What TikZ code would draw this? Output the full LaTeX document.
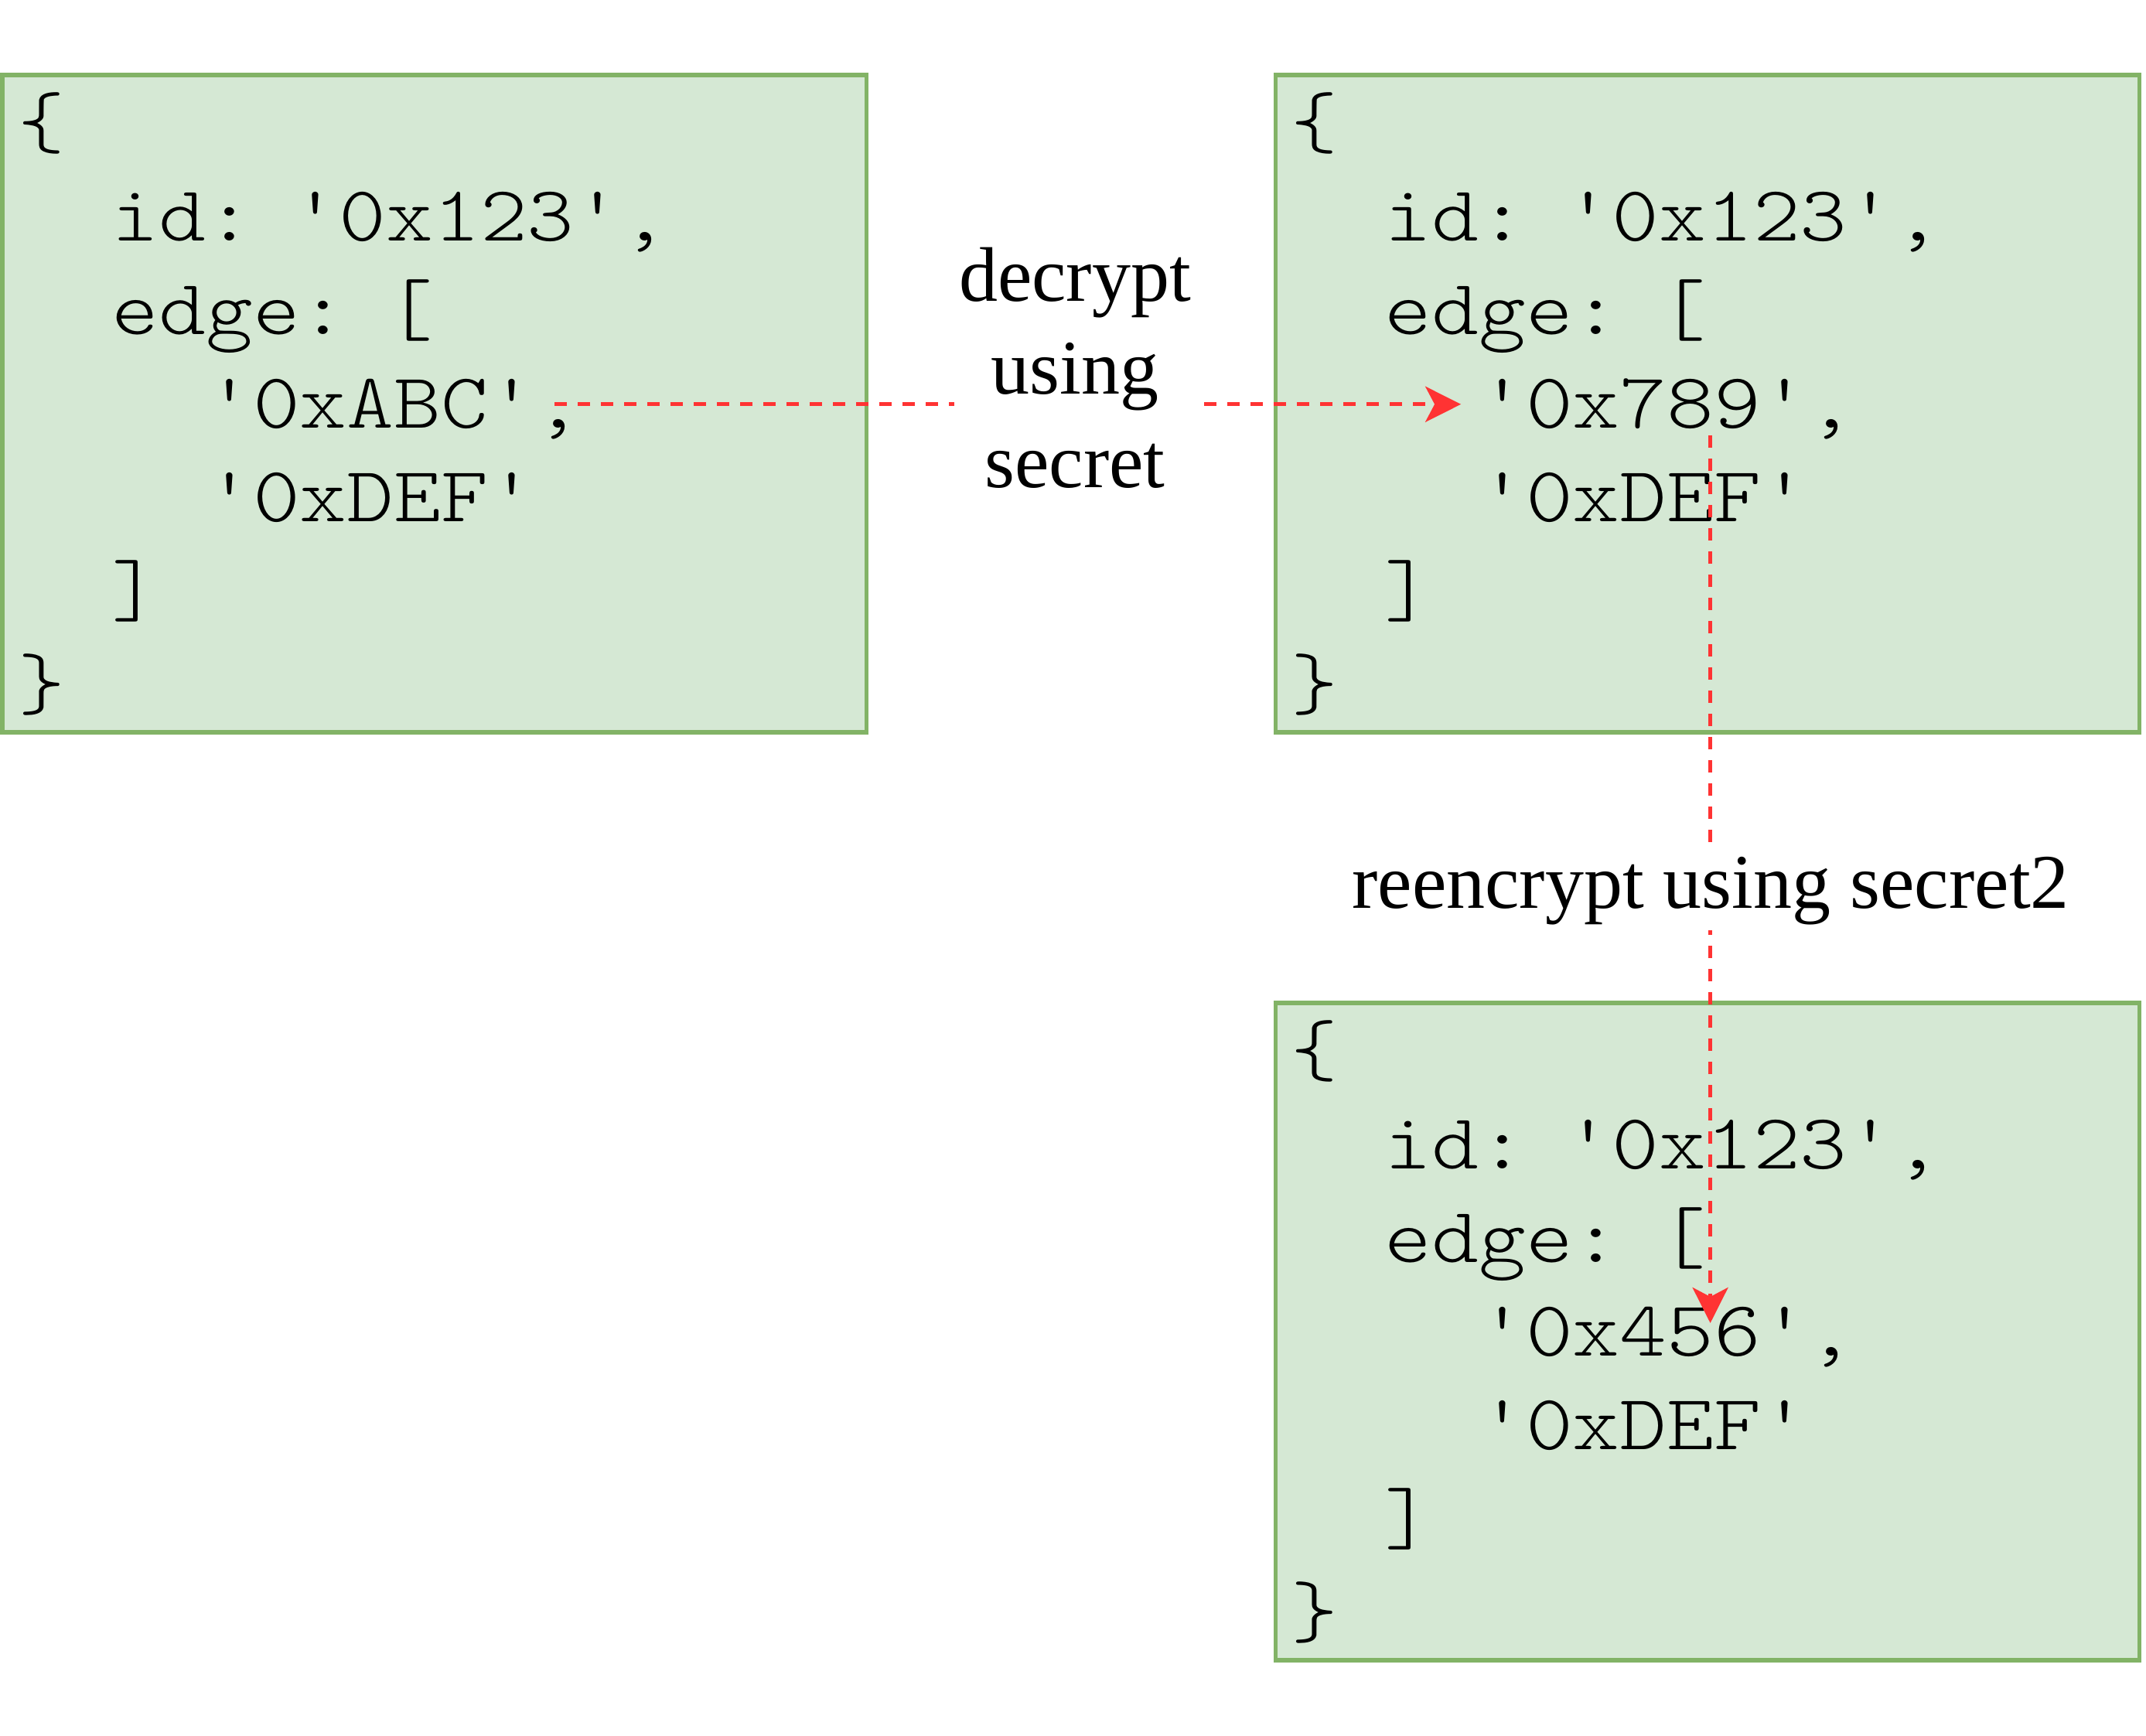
\documentclass[tikz,border=0pt]{standalone}
\usepackage{fontspec}
\setmainfont{Liberation Serif}
\newfontfamily\codefont{lmmonolt10-regular}[Extension=.otf, FakeStretch=1.14]
\usetikzlibrary{positioning, arrows.meta}
\definecolor{boxfill}{HTML}{D5E8D4}
\definecolor{boxline}{HTML}{82B366}
\definecolor{redline}{HTML}{FF3333}
\newcommand\ind{\hphantom{xx}}

\begin{document}
\begin{tikzpicture}[
     node distance = 87.5pt and 132.25pt,
        box/.style = {rectangle, draw=boxline, fill=boxfill, line width=1.3pt, outer sep=0pt,
                      text width=269.25pt, inner xsep=5pt, minimum height=212.5pt, align=left,
                      font=\codefont\fontsize{25.4pt}{30.25pt}\selectfont},
        lbl/.style = {fill=white, inner sep=1.5pt, align=center,
                      font=\fontsize{25pt}{30pt}\selectfont},
       link/.style = {draw=redline, line width=1.2pt, dash pattern=on 4pt off 3.5pt,
                      -{Stealth[length=11.5pt, width=11.5pt, inset=3pt]}}
                        ]
\useasboundingbox (0,0) rectangle (693.75pt,-561.25pt);
\node (b1) [box] at (140.4pt,-130.5pt)
  {\{\\ \ind id: '0x123',\\ \ind edge: [\\ \ind\ind '0xABC',\\ \ind\ind '0xDEF'\\ \ind ]\\ \}};
\node (b2) [box, right=of b1]
  {\{\\ \ind id: '0x123',\\ \ind edge: [\\ \ind\ind '0x789',\\ \ind\ind '0xDEF'\\ \ind ]\\ \}};
\node (b3) [box, below=of b2]
  {\{\\ \ind id: '0x123',\\ \ind edge: [\\ \ind\ind '0x456',\\ \ind\ind '0xDEF'\\ \ind ]\\ \}};
% end points of the red links
\coordinate (abc)    at ([xshift=38.85pt, yshift=-0.2pt]b1.center);
\coordinate (in789)  at ([xshift=60pt, yshift=-0.2pt]b2.west);
\coordinate (out789) at ([xshift=1pt, yshift=-10.25pt]b2.center);
\coordinate (in456)  at ([xshift=1pt, yshift=2.75pt]b3.center);
\draw[link] (abc) -- (in789);
\draw[link] (out789) -- (in456);
\node (dec)   [lbl] at (347.5pt,-118.95pt) {decrypt\\using\\secret};
\node (reenc) [lbl, anchor=base] at (553pt,-293.75pt) {reencrypt using secret2};
\end{tikzpicture}
\end{document}
